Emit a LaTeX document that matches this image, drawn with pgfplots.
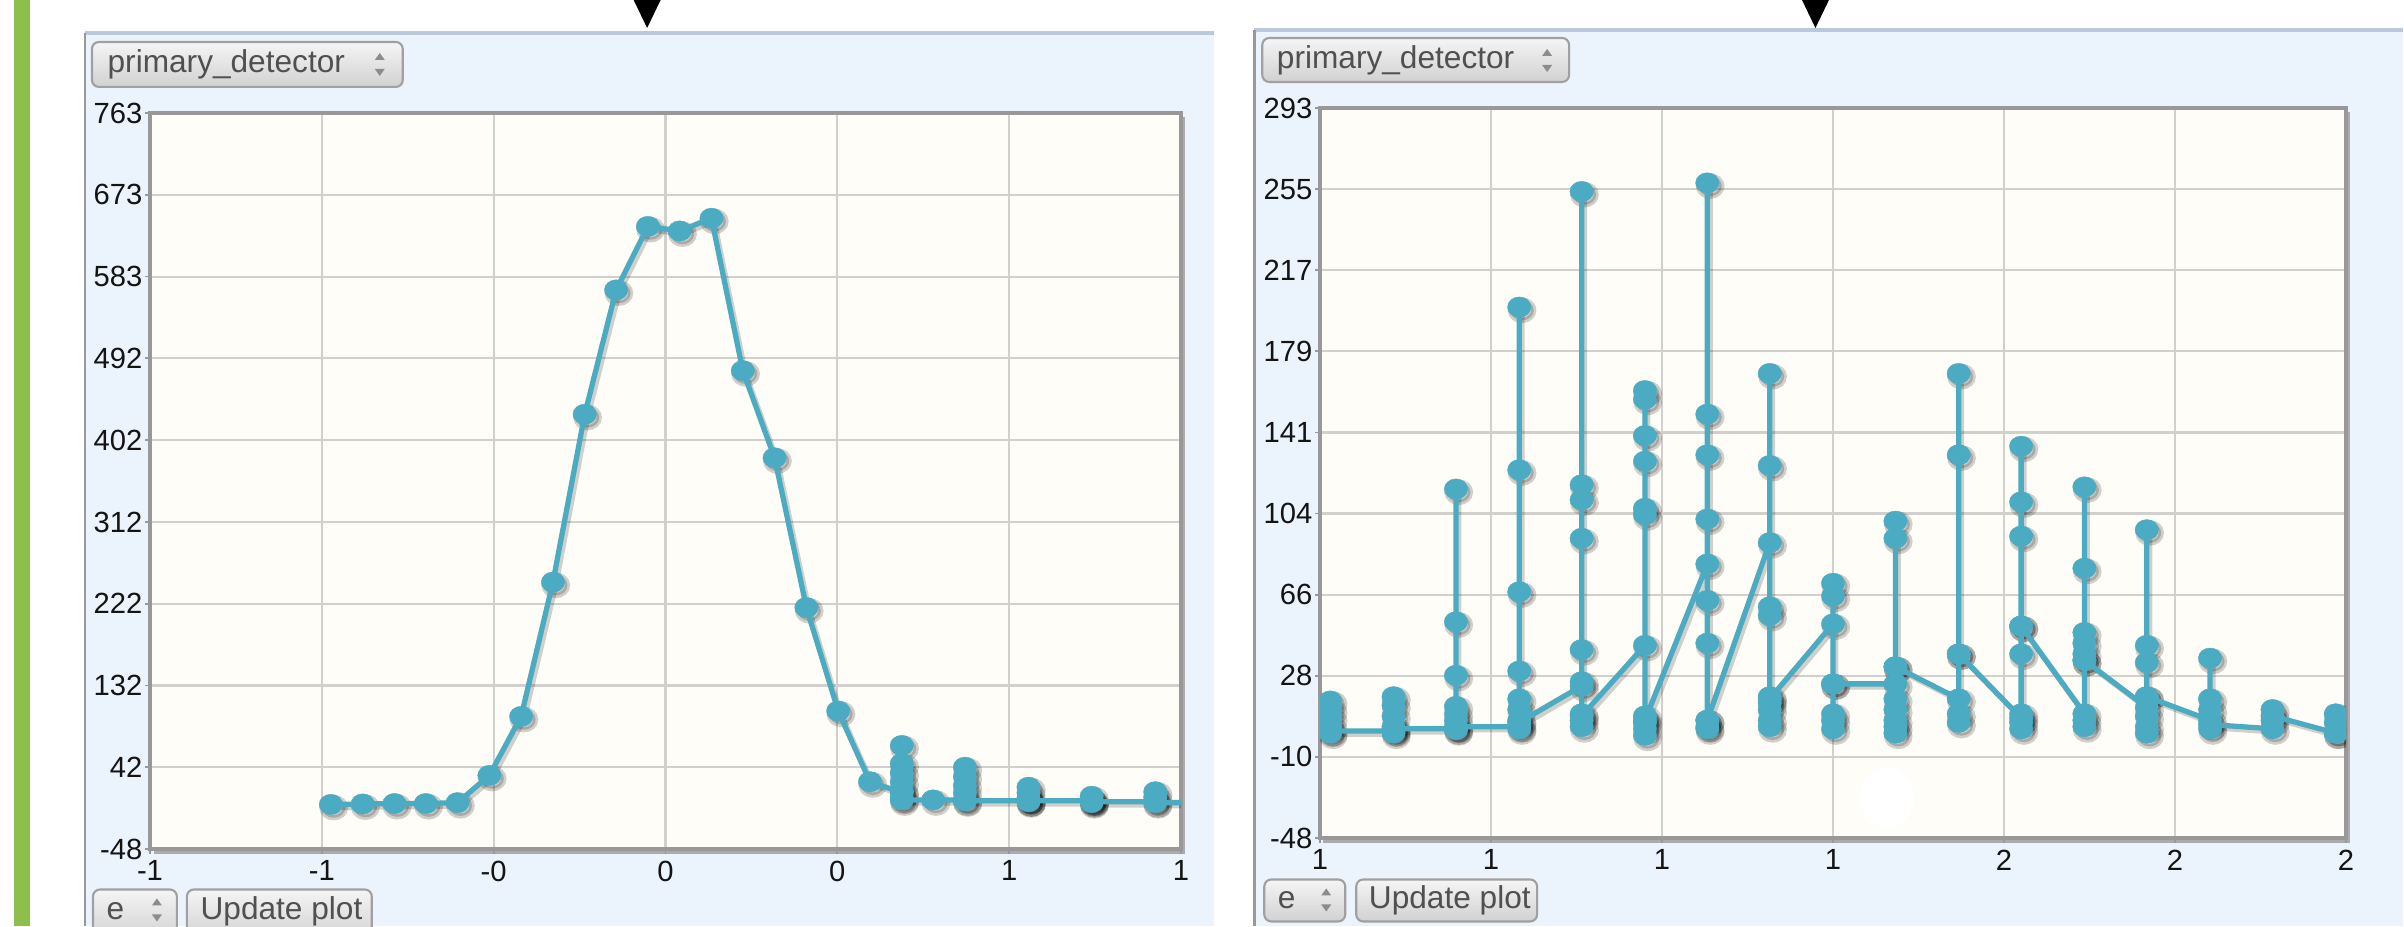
\documentclass[border=0pt]{standalone}
\usepackage{fontspec}
\setmainfont{Liberation Sans}
\usepackage{pgfplots}
\usepackage{pgfplotstable}
\pgfplotsset{compat=1.18}
\definecolor{teal1}{RGB}{74,171,194}
\definecolor{ivory1}{RGB}{255,253,247}
\definecolor{panelbg}{RGB}{235,243,252}
\definecolor{paneltop}{RGB}{185,200,222}
\definecolor{gridc}{RGB}{210,208,204}
\definecolor{boxc}{RGB}{152,152,152}
\definecolor{greenbar}{RGB}{141,191,76}
\definecolor{btnborder}{RGB}{160,160,160}
\definecolor{btntext}{RGB}{80,80,80}
\definecolor{ticktext}{RGB}{20,20,20}

\pgfplotstableread{
x y
-0.779 1
-0.705 1.5
-0.631 2
-0.558 2
-0.484 3
-0.410 33
-0.336 98
-0.262 246
-0.188 431
-0.115 568
-0.041 638
0.033 633
0.107 647
0.180 479
0.254 383
0.328 218
0.402 104
0.476 26
0.550 14
0.550 66
0.550 46
0.550 36
0.550 26
0.550 16
0.550 8
0.550 6
0.623 6
0.697 6
0.697 42
0.697 32
0.697 22
0.697 14
0.697 5
0.845 5
0.845 20
0.845 14
0.845 8
0.845 4
0.845 5
0.992 5
0.992 10
0.992 6
0.992 3
0.992 4
1.140 4
1.140 15
1.140 9
1.140 3
1.287 3
}\leftdata

\pgfplotstableread{
x y
0.812 16
0.812 12
0.812 8
0.812 4
0.812 1
0.812 2
0.886 2
0.886 18
0.886 14
0.886 9
0.886 4
0.886 1
0.886 3
0.959 3
0.959 115
0.959 53
0.959 28
0.959 13.5
0.959 10
0.959 7
0.959 2.6
0.959 4
1.033 4
1.033 200
1.033 124
1.033 67
1.033 30
1.033 17
1.033 12
1.033 7
1.033 3
1.033 6
1.106 23
1.106 254
1.106 117
1.106 110
1.106 92
1.106 40
1.106 25
1.106 10
1.106 7
1.106 4
1.106 9
1.180 42
1.180 161
1.180 157
1.180 140
1.180 128
1.180 106
1.180 103
1.180 9
1.180 6
1.180 3
1.180 0
1.180 7
1.253 80
1.253 258
1.253 150
1.253 131
1.253 101
1.253 63
1.253 43
1.253 7
1.253 4
1.253 3
1.253 7
1.326 90
1.326 169
1.326 126
1.326 60
1.326 56
1.326 18
1.326 15
1.326 12
1.326 7
1.326 4
1.326 17
1.400 52
1.400 71
1.400 65
1.400 24
1.400 10
1.400 7
1.400 3
1.400 24
1.473 24
1.473 100
1.473 92
1.473 32
1.473 17
1.473 12
1.473 7
1.473 4
1.473 1
1.473 32
1.547 17
1.547 169
1.547 131
1.547 38
1.547 10
1.547 6
1.547 38
1.620 8
1.620 135
1.620 109
1.620 93
1.620 51
1.620 38
1.620 10
1.620 6
1.620 3
1.620 51
1.694 10
1.694 116
1.694 78
1.694 48
1.694 43
1.694 38
1.694 35
1.694 7
1.694 4
1.694 35
1.767 13
1.767 96
1.767 42
1.767 34
1.767 18
1.767 9
1.767 4
1.767 1
1.767 18
1.841 7
1.841 36
1.841 17
1.841 12
1.841 3
1.841 5
1.914 3
1.914 12
1.914 7
1.914 9
1.988 1
1.988 10
1.988 6
1.988 1
}\rightdata

\pgfplotsset{
 panel/.style={
  scale only axis, anchor=south west,
  axis background/.style={fill=ivory1},
  grid=major, major grid style={gridc, line width=0.6pt},
  axis line style={boxc, line width=1.1pt},
  tick style={boxc, line width=0.5pt}, tick align=outside, major tick length=0.05cm,
  tick pos=left,
  ticklabel style={font=\fontsize{8.3}{9}\selectfont, text=ticktext},
  yticklabel style={anchor=east, inner sep=0pt, xshift=-0.02cm},
  xticklabel style={anchor=north, inner sep=0pt, yshift=-0.06cm},
  clip marker paths=true,
 },
 ser/.style={teal1, line width=1.5pt, mark=*, mark size=2.9pt,
   mark options={xscale=1.15, fill=teal1, draw=teal1, line width=0.1pt}},
 shad/.style={black, opacity=0.18, line width=1.5pt, mark=*, mark size=2.9pt,
   mark options={xscale=1.15, fill=black, draw=none},
   /tikz/xshift=0.8pt, /tikz/yshift=-0.9pt},
}

\begin{document}
\begin{tikzpicture}
\useasboundingbox (0,0) rectangle (24.04,-9.27);
\clip (0,0) rectangle (24.04,-9.27);
\begin{scope}[x=0.01cm,y=-0.01cm]
\fill[white] (0,0) rectangle (2404,927);
\fill[greenbar] (14,0) rectangle (30,927);
% left panel
\fill[panelbg] (85,33) rectangle (1215,927);
\draw[paneltop, line width=1.2pt] (85,33) -- (1215,33);
\draw[black!40, line width=0.8pt] (85,33) -- (85,927);
% right panel
\fill[panelbg] (1255,30) rectangle (2404,927);
\draw[paneltop, line width=1.2pt] (1255,30) -- (2404,30);
\draw[black!40, line width=0.8pt] (1255,30) -- (1255,927);
% box shadows
\fill[black!33] (154,117) rectangle (1186,854);
\fill[black!33] (1324,112) rectangle (2351,843);
\end{scope}

\begin{axis}[panel, at={(1.50cm,-8.49cm)}, width=10.31cm, height=7.36cm,
  xmin=-1.2, xmax=1.2, ymin=-48.1, ymax=763,
  xtick={-1.2,-0.8,-0.4,0,0.4,0.8,1.2},
  xticklabels={-1,-1,-0,0,0,1,1},
  ytick={-48.1,42.0,132.1,222.2,312.3,402.4,492.6,582.7,672.8,762.9},
  yticklabels={-48,42,132,222,312,402,492,583,673,763}]
\addplot[shad] table[x=x,y=y] {\leftdata};
\addplot[ser] table[x=x,y=y] {\leftdata};
\end{axis}

\begin{axis}[panel, at={(13.20cm,-8.38cm)}, width=10.26cm, height=7.30cm,
  xmin=0.8, xmax=2.0, ymin=-48, ymax=293,
  xtick={0.8,1.0,1.2,1.4,1.6,1.8,2.0},
  xticklabels={1,1,1,1,2,2,2},
  ytick={-48,-10.11,27.78,65.67,103.56,141.44,179.33,217.22,255.11,293},
  yticklabels={-48,-10,28,66,104,141,179,217,255,293}]
\addplot[shad] table[x=x,y=y] {\rightdata};
\addplot[ser] table[x=x,y=y] {\rightdata};
\end{axis}

\begin{scope}[x=0.01cm,y=-0.01cm]
% white artifact
\fill[white] (1888,798) ellipse [x radius=27, y radius=30];
% arrows
\fill[black] (634,0) -- (661,0) -- (647.5,28) -- cycle;
\fill[black] (1803,0) -- (1830,0) -- (1816.5,28) -- cycle;
% buttons
\tikzset{btn/.style={draw=btnborder, line width=0.6pt, rounded corners=0.07cm, top color=white!96!black, bottom color=white!82!black},
 btxt/.style={anchor=west, inner sep=0pt, text=btntext, font=\fontsize{9}{10}\selectfont},
 spin/.style={fill=black!45}}
% left top
\path[btn] (92,42) rectangle (403,87);
\node[btxt] at (107,64.5) {primary\_detector};
\fill[spin] (375,60) -- (385,60) -- (380,53) -- cycle;
\fill[spin] (375,69) -- (385,69) -- (380,76) -- cycle;
% right top
\path[btn] (1263,38) rectangle (1570,82);
\node[btxt] at (1277,60) {primary\_detector};
\fill[spin] (1543,56) -- (1553,56) -- (1548,49) -- cycle;
\fill[spin] (1543,65) -- (1553,65) -- (1548,72) -- cycle;
% left bottom
\path[btn] (93,890) rectangle (177,940);
\node[btxt] at (106,912) {e};
\fill[spin] (152,906) -- (162,906) -- (157,899) -- cycle;
\fill[spin] (152,915) -- (162,915) -- (157,922) -- cycle;
\path[btn] (187,890) rectangle (372,940);
\node[btxt] at (200,912) {Update plot};
% right bottom
\path[btn] (1265,880) rectangle (1346,922);
\node[btxt] at (1278,901) {e};
\fill[spin] (1322,896) -- (1332,896) -- (1327,889) -- cycle;
\fill[spin] (1322,905) -- (1332,905) -- (1327,912) -- cycle;
\path[btn] (1357,880) rectangle (1538,922);
\node[btxt] at (1369,901) {Update plot};
\end{scope}
\end{tikzpicture}
\end{document}
